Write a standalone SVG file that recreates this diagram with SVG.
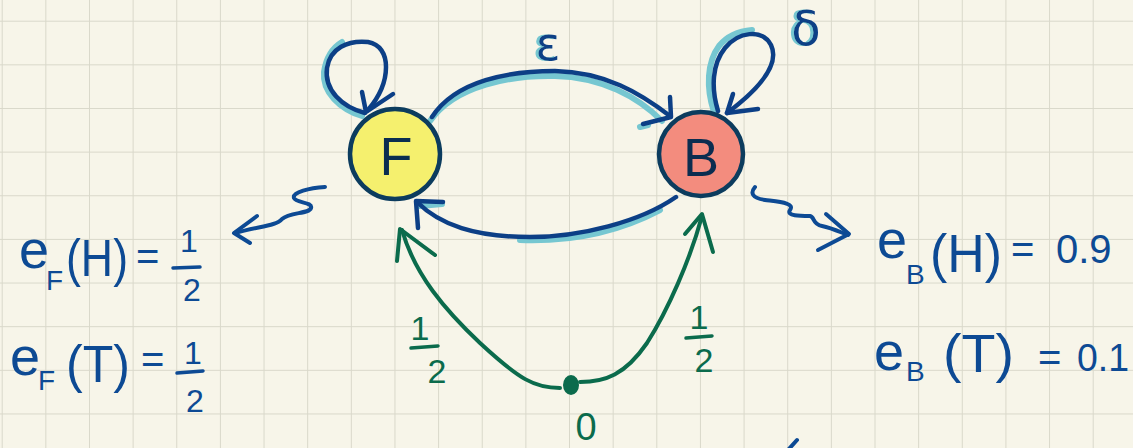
<svg xmlns="http://www.w3.org/2000/svg" width="1133" height="448" viewBox="0 0 1133 448">
  <defs>
    <pattern id="grid" x="1.7" y="20.7" width="43.64" height="43.64" patternUnits="userSpaceOnUse">
      <path d="M0,0 H43.64 M0,0 V43.64" fill="none" stroke="#d9d8ca" stroke-width="2"/>
    </pattern>
    <filter id="glow" x="-30%" y="-30%" width="160%" height="160%">
      <feDropShadow dx="-3" dy="0" stdDeviation="0.3" flood-color="#76c7d1" flood-opacity="1"/>
    </filter>
    <style>
      .edge{fill:none;stroke:#0c3f86;stroke-width:4.5;stroke-linecap:round;stroke-linejoin:round}
      .hl{fill:none;stroke:#76c7d1;stroke-width:6;stroke-linecap:round;stroke-linejoin:round}
      .green{fill:none;stroke:#0b6b4c;stroke-width:4;stroke-linecap:round;stroke-linejoin:round}
      .wave{fill:none;stroke:#0d4a94;stroke-width:4;stroke-linecap:round;stroke-linejoin:round}
      .node{stroke:#0c3c5e;stroke-width:4.5}
      .nlabel{font-family:"Liberation Sans",Arial,sans-serif;font-size:54px;fill:#0b2d50;text-anchor:middle}
      .t{font-family:"Liberation Sans",Arial,sans-serif;fill:#0d4a94}
      .sym{font-family:"DejaVu Sans",sans-serif;text-anchor:middle;fill:#0c3f86;filter:url(#glow)}
      .g{font-family:"Liberation Sans",Arial,sans-serif;fill:#0b6b4c;text-anchor:middle}
      .bar{stroke:#0d4a94;stroke-width:3.5;stroke-linecap:round}
      .gbar{stroke:#0b6b4c;stroke-width:3.5;stroke-linecap:round}
    </style>
  </defs>
  <rect width="1133" height="448" fill="#f7f5e9"/>
  <rect width="1133" height="448" fill="url(#grid)"/>

  <g id="connectors">
    <!-- F self loop -->
    <path class="hl" d="M362,116 C340,109 322,92 324,72 C326,58 332,48 342,42"/>
    <path class="edge" d="M365,113 C342,107 324,90 327,68 C330,48 348,40 368,42 C392,46 392,82 368,110"/>
    <path class="edge" d="M362,92 L366,112 L393,94"/>
    <!-- B self loop -->
    <path class="hl" d="M714,112 C706,88 707,62 719,46 C728,35 740,31 752,30"/>
    <path class="edge" d="M718,111 C711,88 712,64 725,48 C738,32 762,28 771,45 C781,66 755,92 727,113"/>
    <path class="edge" d="M733,94 L727,113 L758,109"/>
    <!-- F -> B top -->
    <path class="hl" d="M430,121 C455,85 512,75 555,76 C602,77 638,97 662,121"/>
    <path class="hl" d="M640,127 L648,125"/>
    <path class="edge" d="M432,117 C456,80 510,71 555,71 C605,72 640,93 670,116"/>
    <path class="edge" d="M670,97 L671,117 L643,124"/>
    <!-- B -> F bottom -->
    <path class="hl" d="M660,210 C622,230 575,242 520,240"/>
    <path class="hl" d="M420,206 L442,204"/>
    <path class="edge" d="M676,197 C640,222 580,237 530,237 C475,237 440,225 417,202"/>
    <path class="edge" d="M443,202 L416,201 L418,228"/>
    <!-- start transitions -->
    <path class="green" d="M560,388 C535,388 520,380 480,343 C445,310 415,275 402,230"/>
    <path class="green" d="M397,261 L400,229 L435,255"/>
    <path class="green" d="M580,382 C605,382 625,375 647,343 C668,310 690,260 702,216"/>
    <path class="green" d="M685,234 L702,214 L713,252"/>
    <!-- emission squiggles -->
    <path class="wave" d="M325,187 C310,188 292,192 294,198 C296,203 313,202 311,208 C309,214 290,212 282,219 C276,226 260,226 235,233"/>
    <path class="wave" d="M257,216 L234,233 L250,243"/>
    <path class="wave" d="M755,187 C750,193 752,198 765,200 C780,202 795,203 790,210 C786,216 800,216 810,216 C815,217 812,224 822,226 C832,228 840,232 848,235"/>
    <path class="wave" d="M826,214 L849,234 L818,250"/>
    <path class="wave" d="M788,450 L797,440"/>
  </g>

  <g id="node-F">
    <circle class="node" cx="395" cy="154" r="45" fill="#f5f06e"/>
    <text class="nlabel" x="396" y="175">F</text>
  </g>
  <g id="node-B">
    <circle class="node" cx="701" cy="154" r="42" fill="#f38c7e"/>
    <text class="nlabel" x="701" y="176">B</text>
  </g>
  <g id="start">
    <ellipse cx="571" cy="385" rx="8" ry="10" fill="#0b6b4c"/>
    <text class="g" x="586" y="440" font-size="38">0</text>
  </g>

  <g id="labels">
    <text class="sym" x="548" y="60" font-size="46">ε</text>
    <text class="sym" x="806" y="45" font-size="48">δ</text>

    <text class="g" x="420" y="340" font-size="34">1</text>
    <line class="gbar" x1="411" y1="348" x2="438" y2="346"/>
    <text class="g" x="437" y="383" font-size="34">2</text>
    <text class="g" x="699" y="329" font-size="34">1</text>
    <line class="gbar" x1="686" y1="338" x2="712" y2="336"/>
    <text class="g" x="704" y="372" font-size="34">2</text>
  </g>

  <g id="emission-F">
    <text class="t" x="19" y="268" font-size="54">e</text>
    <text class="t" x="46" y="290" font-size="28">F</text>
    <text class="t" x="66" y="276" font-size="52" textLength="62" lengthAdjust="spacingAndGlyphs">(H)</text>
    <text class="t" x="136" y="270" font-size="40">=</text>
    <text class="t" x="189" y="252" font-size="32" text-anchor="middle">1</text>
    <line class="bar" x1="173" y1="268" x2="200" y2="267"/>
    <text class="t" x="192" y="301" font-size="32" text-anchor="middle">2</text>

    <text class="t" x="10" y="375" font-size="54">e</text>
    <text class="t" x="38" y="390" font-size="28">F</text>
    <text class="t" x="66" y="382" font-size="52" textLength="64" lengthAdjust="spacingAndGlyphs">(T)</text>
    <text class="t" x="141" y="373" font-size="40">=</text>
    <text class="t" x="193" y="364" font-size="32" text-anchor="middle">1</text>
    <line class="bar" x1="177" y1="373" x2="203" y2="371"/>
    <text class="t" x="195" y="412" font-size="32" text-anchor="middle">2</text>
  </g>

  <g id="emission-B">
    <text class="t" x="877" y="258" font-size="54">e</text>
    <text class="t" x="906" y="284" font-size="28">B</text>
    <text class="t" x="930" y="272" font-size="54" textLength="72" lengthAdjust="spacingAndGlyphs">(H)</text>
    <text class="t" x="1011" y="263" font-size="40">=</text>
    <text class="t" x="1056" y="263" font-size="40">0.9</text>

    <text class="t" x="874" y="370" font-size="54">e</text>
    <text class="t" x="906" y="381" font-size="28">B</text>
    <text class="t" x="943" y="372" font-size="54" textLength="71" lengthAdjust="spacingAndGlyphs">(T)</text>
    <text class="t" x="1038" y="371" font-size="40">=</text>
    <text class="t" x="1077" y="371" font-size="38" textLength="52" lengthAdjust="spacingAndGlyphs">0.1</text>
  </g>
</svg>
